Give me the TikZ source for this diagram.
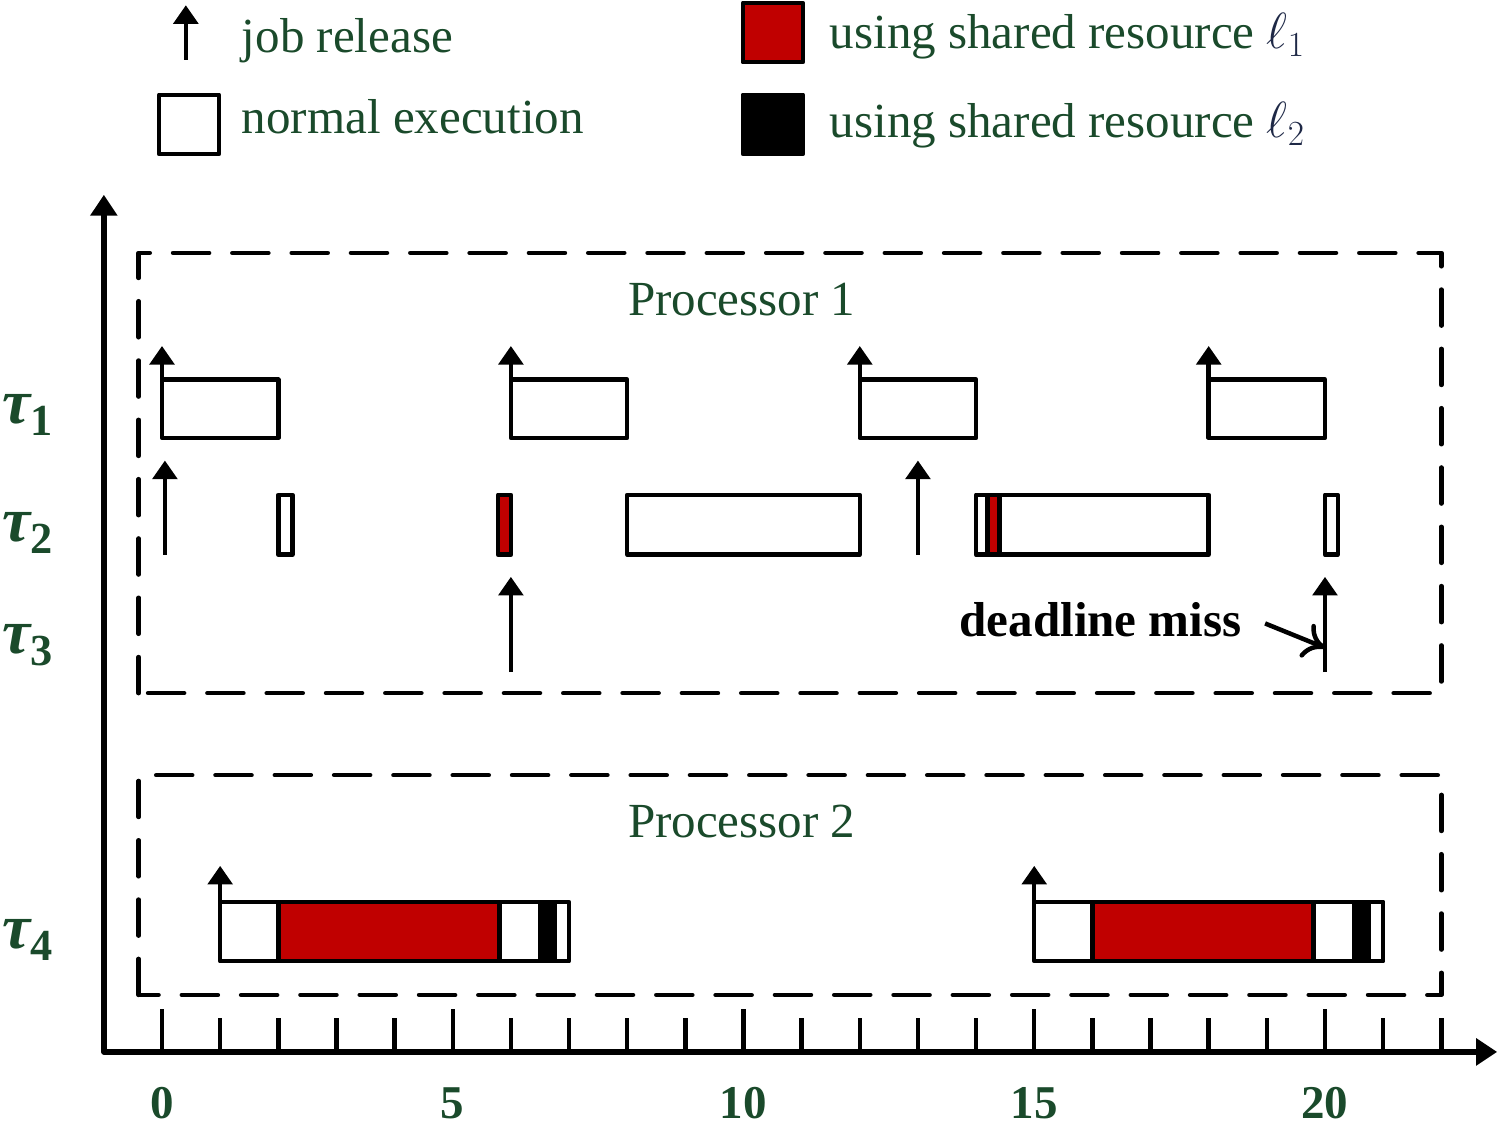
\documentclass[tikz,border=0pt]{standalone}
\usepackage{fontspec}
\setmainfont{Liberation Serif}
\usetikzlibrary{arrows.meta}
\definecolor{dkgreen}{RGB}{26,74,43}
\definecolor{resred}{RGB}{192,0,0}
\definecolor{ellblue}{RGB}{30,40,70}

\begin{document}
\begin{tikzpicture}[line width=2.2pt, line join=round,
  txt/.style={text=dkgreen, inner sep=1pt, font=\fontsize{24}{28}\selectfont},
  num/.style={text=dkgreen, inner sep=1pt, font=\fontsize{23}{28}\selectfont\bfseries},
  task/.style={text=dkgreen, inner sep=1pt, font=\fontsize{31}{36}\selectfont\bfseries\itshape},
  proc/.style={dash pattern=on 0.62cm off 0.4cm, line cap=round},
  rel/.style={-{Triangle[width=0.42cm,length=0.32cm]}},
  job/.style={draw, fill=white},
  lone/.style={draw, fill=resred},
  ltwo/.style={draw, fill=black}]
\useasboundingbox (-2.786,-1.307) rectangle (23.01,18.09);

% legend
\coordinate (jr) at (0.41,17.06);
\draw[rel] (jr) -- ++(0,0.94);
\node[txt, anchor=base west] (jrl) at (1.3,17.18) {job release};
\draw[job] (-0.05,15.44) rectangle (0.98,16.46);
\node[txt, anchor=base west] (nel) at (1.3,15.80) {normal execution};
\draw[lone] (9.99,17.02) rectangle (11.02,18.04);
\node[txt, anchor=base west] (l1) at (11.41,17.25) {using shared resource \textcolor{ellblue}{$\ell_1$}};
\draw[ltwo] (9.99,15.44) rectangle (11.02,16.46);
\node[txt, anchor=base west] (l2) at (11.41,15.72) {using shared resource \textcolor{ellblue}{$\ell_2$}};

% axes
\draw[line width=2.6pt, {Triangle[width=0.45cm,length=0.36cm]}-{Triangle[width=0.45cm,length=0.36cm]}]
  (-1,14.74) -- (-1,0) -- (22.96,0);
\foreach \x in {0,...,22}
  \draw (\x,0) -- (\x,0.58);
\foreach \x in {0,5,10,15,20} {
  \draw (\x,0) -- (\x,0.74);
  \node[num, anchor=base] (n\x) at (\x,-1.14) {\x};
}

% processors
\draw[proc] (-0.4,6.17) rectangle (22,13.74);
\draw[proc] (-0.4,0.98) rectangle (22,4.76);
\node[txt, anchor=base] (p1) at (9.97,12.67) {Processor 1};
\node[txt, anchor=base] (p2) at (9.97,3.68) {Processor 2};

\node[task, anchor=base] (t1) at (-2.31,10.8) {τ\textsubscript{\upshape 1}};
\node[task, anchor=base] (t2) at (-2.31,8.77) {τ\textsubscript{\upshape 2}};
\node[task, anchor=base] (t3) at (-2.31,6.85) {τ\textsubscript{\upshape 3}};
\node[task, anchor=base] (t4) at (-2.31,1.77) {τ\textsubscript{\upshape 4}};

% tau1
\draw[job] (0,10.56) rectangle (2,11.56);
\draw[job] (6,10.56) rectangle (8,11.56);
\draw[job] (12,10.56) rectangle (14,11.56);
\draw[job] (18,10.56) rectangle (20,11.56);
\draw[rel] (0,11.56) -- (0,12.14);
\draw[rel] (6,11.56) -- (6,12.14);
\draw[rel] (12,11.56) -- (12,12.14);
\draw[rel] (18,11.56) -- (18,12.14);

% tau2
\draw[job] (2,8.55) rectangle (2.24,9.58);
\draw[lone] (5.78,8.55) rectangle (6,9.58);
\draw[job] (8,8.55) rectangle (12,9.58);
\draw[job] (14,8.55) rectangle (14.2,9.58);
\draw[lone] (14.2,8.55) rectangle (14.4,9.58);
\draw[job] (14.4,8.55) rectangle (18,9.58);
\draw[job] (20,8.55) rectangle (20.22,9.58);
\draw[rel] (0.05,8.55) -- (0.05,10.17);
\draw[rel] (13,8.55) -- (13,10.17);

% tau3
\draw[rel] (6,6.53) -- (6,8.17);
\draw[rel] (20,6.53) -- (20,8.17);
\node[anchor=base east, inner sep=1pt, font=\fontsize{24}{28}\selectfont\bfseries] (miss) at (18.64,7.14) {deadline miss};
\coordinate (dl) at (20,6.95);
\draw[-{To[length=0.36cm,width=0.62cm]}] ([xshift=0.33cm,yshift=-0.06cm]miss.east) -- (dl);

% tau4
\draw[job] (1,1.56) rectangle (2,2.58);
\draw[lone] (2,1.56) rectangle (5.8,2.58);
\draw[job] (5.8,1.56) rectangle (6.5,2.58);
\draw[ltwo] (6.5,1.56) rectangle (6.75,2.58);
\draw[job] (6.75,1.56) rectangle (7,2.58);
\draw[job] (15,1.56) rectangle (16,2.58);
\draw[lone] (16,1.56) rectangle (19.8,2.58);
\draw[job] (19.8,1.56) rectangle (20.5,2.58);
\draw[ltwo] (20.5,1.56) rectangle (20.75,2.58);
\draw[job] (20.75,1.56) rectangle (21,2.58);
\draw[rel] (1,2.58) -- (1,3.2);
\draw[rel] (15,2.58) -- (15,3.2);
\end{tikzpicture}
\end{document}
